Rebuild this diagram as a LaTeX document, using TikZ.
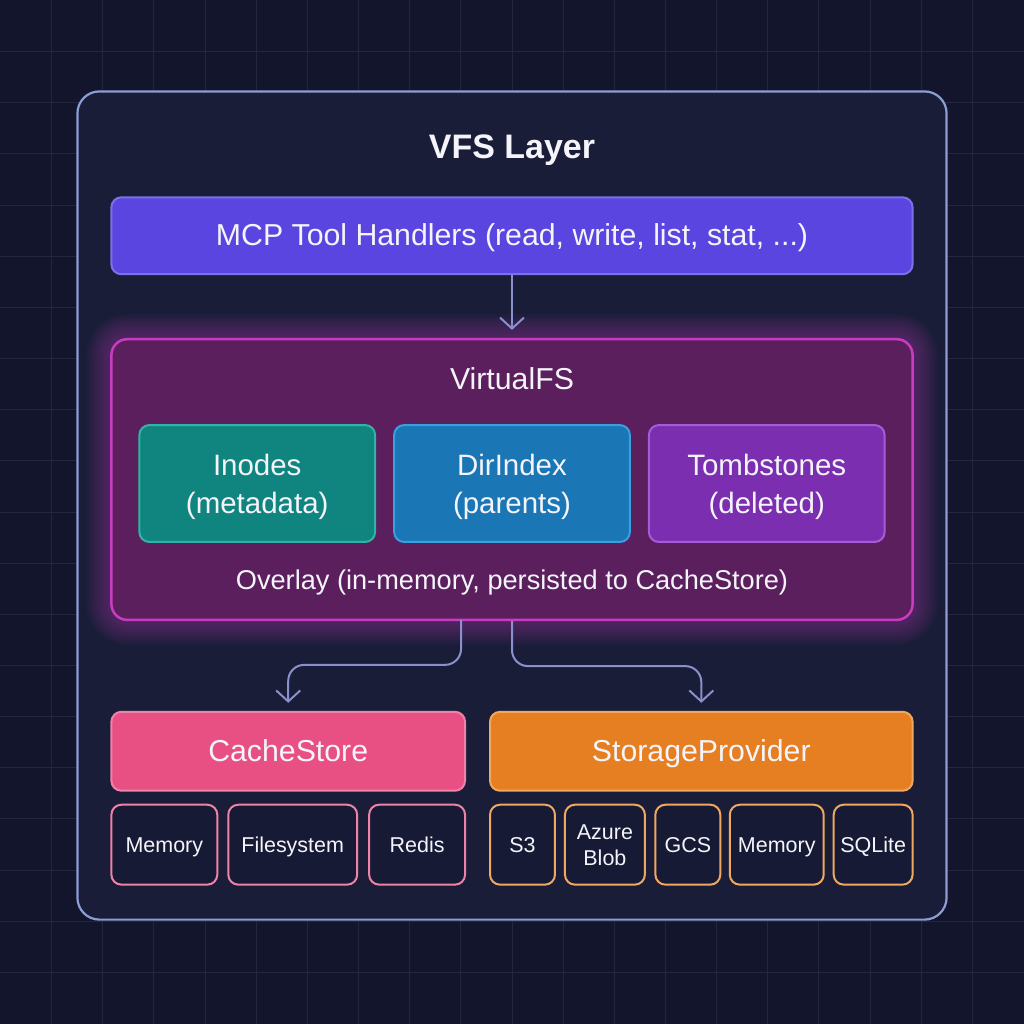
\documentclass[tikz,border=0pt]{standalone}
\usepackage{fontspec}
\setmainfont{Liberation Sans}
\usetikzlibrary{arrows.meta}

\definecolor{pagebg}{HTML}{12152B}
\definecolor{gridcol}{HTML}{23263F}
\definecolor{panelbg}{HTML}{1A1D38}
\definecolor{panelln}{HTML}{8C9CD4}
\definecolor{linkcol}{HTML}{8A90CC}
\definecolor{textcol}{HTML}{F4F4FA}
\definecolor{leafbg}{HTML}{171A34}
\definecolor{mcpbg}{HTML}{5B45E0}
\definecolor{mcpln}{HTML}{7C70E8}
\definecolor{vfsbg}{HTML}{5A1F5C}
\definecolor{vfsln}{HTML}{C83CC0}
\definecolor{inobg}{HTML}{10857F}
\definecolor{inoln}{HTML}{2FB5A5}
\definecolor{dirbg}{HTML}{1A76B4}
\definecolor{dirln}{HTML}{38A0E0}
\definecolor{tombg}{HTML}{7B2FB0}
\definecolor{tomln}{HTML}{A45CD8}
\definecolor{cachebg}{HTML}{E85083}
\definecolor{cachebd}{HTML}{EE82A8}
\definecolor{storebg}{HTML}{E67E22}
\definecolor{storebd}{HTML}{F0A860}

\begin{document}
\begin{tikzpicture}[
    % GLOBAL CFG
    x=1pt, y=-1pt,
    >={Straight Barb[length=11pt,width=24pt]},
    % Styles
    base/.style={
        rectangle,
        draw,
        align=center,
        text=textcol,
        inner sep=0pt,
    },
    panel/.style={
        base,
        rounded corners=22pt,
        line width=2.2pt,
        draw=panelln,
        fill=panelbg,
        minimum width=870pt,
        minimum height=829pt,
    },
    bar/.style={
        base,
        rounded corners=10pt,
        line width=2pt,
        text height=26pt,
        text depth=6pt,
        font=\fontsize{30.3}{36}\selectfont,
    },
    inner/.style={
        base,
        rounded corners=10pt,
        line width=2pt,
        minimum width=236pt,
        minimum height=117pt,
        text height=65pt,
        text depth=6pt,
        font=\fontsize{29.5}{38}\selectfont,
    },
    leaf/.style={
        base,
        rounded corners=10pt,
        line width=2pt,
        fill=leafbg,
        minimum height=80pt,
        text height=20pt,
        text depth=4pt,
        font=\fontsize{21.5}{26}\selectfont,
    },
    plain/.style={
        text=textcol,
        inner sep=0pt,
        text height=26pt,
        text depth=6pt,
    },
    ArrowL/.style={
        ->,
        draw=linkcol,
        line width=2pt,
        rounded corners=16pt,
        shorten >=8pt,
    },
    glow/.style={
        rectangle,
        rounded corners=16pt,
        draw=vfsln,
        opacity=.04,
        minimum width=802pt,
        minimum height=281pt,
    },
]

% Background and grid
    \fill [pagebg] (0,0) rectangle (1024,1024);
    \foreach \i in {1,...,19} {
        \draw [gridcol, line width=1pt] (51.2*\i,0) -- (51.2*\i,1024);
        \draw [gridcol, line width=1pt] (0,51.2*\i) -- (1024,51.2*\i);
    }
    \useasboundingbox (0,0) rectangle (1024,1024);

% Outer panel and title
    \node [panel] (layer) at (512,505.5) {};
    \node [plain, text height=30pt, font=\fontsize{34}{40}\selectfont\bfseries] (title) at (512,146) {VFS Layer};

% Top bar
    \node [bar, fill=mcpbg, draw=mcpln, minimum width=802pt, minimum height=77pt] (mcp) at (512,235.5)
        {MCP Tool Handlers (read, write, list, stat, ...)};

% VirtualFS with its glow
    \foreach \g in {5,10,...,50} {
        \node [glow, line width=\g pt] at (512,479.5) {};
    }
    \node [base, rounded corners=16pt, line width=2.5pt, draw=vfsln, fill=vfsbg,
        minimum width=802pt, minimum height=281pt] (vfs) at (512,479.5) {};
    \node [plain, font=\fontsize{30.3}{36}\selectfont] (vfstitle) at (512,379) {VirtualFS};
    \node [inner, fill=inobg, draw=inoln] (inodes) at (257,483.5) {Inodes\\(metadata)};
    \node [inner, fill=dirbg, draw=dirln] (dirindex) at (512,483.5) {DirIndex\\(parents)};
    \node [inner, fill=tombg, draw=tomln] (tombstones) at (767,483.5) {Tombstones\\(deleted)};
    \node [plain, text height=25pt, font=\fontsize{27.2}{32}\selectfont] (overlay) at (512,580) {Overlay (in-memory, persisted to CacheStore)};

% Bottom bars
    \node [bar, fill=cachebg, draw=cachebd, minimum width=354pt, minimum height=79pt] (cache) at (288,751.5) {CacheStore};
    \node [bar, fill=storebg, draw=storebd, minimum width=423pt, minimum height=79pt] (storage) at (701.5,751.5) {StorageProvider};

% Cache leaves
    \node [leaf, draw=cachebd, minimum width=106pt] (cmem) at (164,845) {Memory};
    \node [leaf, draw=cachebd, minimum width=129pt] (cfs) at (292.5,845) {Filesystem};
    \node [leaf, draw=cachebd, minimum width=96pt] (credis) at (417,845) {Redis};

% Storage leaves
    \node [leaf, draw=storebd, minimum width=65pt] (ss3) at (522.5,845) {S3};
    \node [leaf, draw=storebd, minimum width=80pt, text height=46pt, text depth=4pt] (sazure) at (605,845) {Azure\\Blob};
    \node [leaf, draw=storebd, minimum width=65pt] (sgcs) at (688,845) {GCS};
    \node [leaf, draw=storebd, minimum width=94pt] (smem) at (777,845) {Memory};
    \node [leaf, draw=storebd, minimum width=79pt] (ssql) at (873.5,845) {SQLite};

% Connectors
    \coordinate (tapL) at (461,620);
    \draw [ArrowL] (mcp.south) -- (vfs.north);
    \draw [ArrowL] (tapL) -- ++(0,45) -| (cache.north);
    \draw [ArrowL] (vfs.south) -- ++(0,45) -| (storage.north);

\end{tikzpicture}
\end{document}
